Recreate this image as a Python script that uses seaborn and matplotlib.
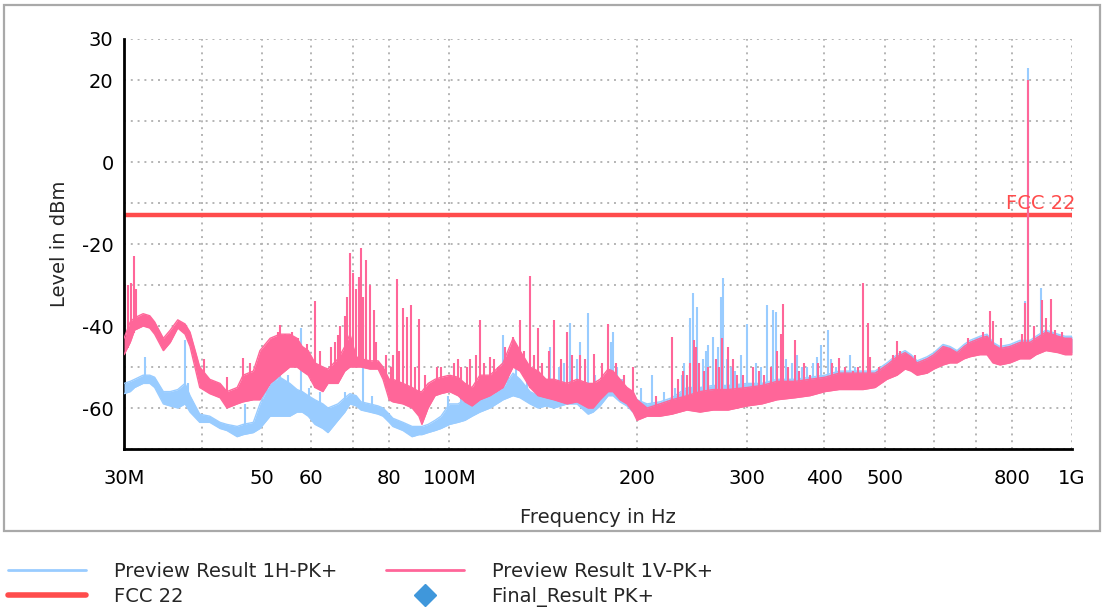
import numpy as np
import pandas as pd
import matplotlib
matplotlib.use("Agg")
import matplotlib.pyplot as plt
import seaborn as sns
from matplotlib.lines import Line2D
from matplotlib.patches import Rectangle
from matplotlib.ticker import FixedLocator, NullLocator

# ---------------------------------------------------------------- data (MHz, dBm)
# Horizontal polarisation sweep: band floor / ceiling
h_freq = [30.0, 30.7, 31.2, 32.2, 33.0, 33.6, 34.7, 35.6, 36.6, 37.6, 38.3, 39.7, 41.2, 42.8,
          43.9, 45.6, 46.6, 48.4, 49.6, 51.5, 53.4, 55.4, 56.9, 58.0, 59.3, 60.8, 62.6, 63.8,
          66.2, 67.9, 69.2, 70.8, 72.1, 74.5, 76.8, 78.2, 80.0, 81.1, 84.2, 87.1, 89.3, 90.3,
          92.4, 94.8, 96.9, 100.0, 103.2, 105.9, 108.7, 111.9, 116.2, 121.9, 126.5, 129.8,
          134.7, 138.8, 142.9, 147.2, 154.5, 160.3, 167.0, 170.1, 174.5, 179.8, 183.1, 187.9,
          192.8, 197.2, 200.1, 207.7, 217.8, 227.7, 240.7, 252.6, 265.1, 280.2, 300.6, 317.6,
          335.8, 359.0, 379.4, 401.0, 422.4, 440.1, 461.8, 482.7, 504.4, 523.5, 539.3, 551.4,
          563.8, 585.1, 600.0, 620.6, 636.9, 653.6, 670.9, 685.8, 711.6, 730.2, 746.6, 766.2,
          795.1, 825.1, 856.3, 875.4, 908.3, 949.6, 974.5, 1000.0]
h_low = [-56.5, -56, -55, -54, -54, -55, -59, -59.5, -60, -59, -61, -63.5, -63.5, -65,
         -65.5, -67, -66.5, -66, -65, -62, -62, -62, -61, -61, -62, -64, -65, -66,
         -63, -61, -59, -59.5, -60.5, -61, -61.5, -62, -63.5, -64.5, -65.5, -67, -66.5, -66.5,
         -66, -65.5, -65, -64, -63.5, -63, -62, -61, -60, -58, -57, -57.5,
         -59, -60, -59.5, -60, -59, -59, -61.5, -61, -59.5, -57, -57, -58.5,
         -59.5, -61, -62, -61, -61, -61, -60, -60.5, -60, -60, -59, -58.5,
         -57.5, -57, -56.5, -55.5, -55, -55, -55, -54.5, -52.5, -51.5, -50, -50.5,
         -51.5, -51, -50, -49, -48.5, -48.5, -47.5, -47, -46.5, -46.5, -48.5, -49,
         -48.5, -47.5, -47.5, -46.5, -45.5, -46, -46.5, -46.5]
h_high = [-54, -53.5, -53, -52, -52, -52.5, -56, -56, -55.5, -54, -57, -61.5, -62, -63.5,
          -64, -64.5, -64, -63.5, -59, -54, -52.5, -54, -55.5, -56, -57, -58, -59, -60,
          -59, -57.5, -56.5, -57, -58.5, -59, -59.5, -60, -61.5, -62.5, -63.5, -64.5, -64.5, -64.5,
          -64, -63, -62, -59, -59, -58, -57, -57, -57, -55, -51.5, -53,
          -56, -57, -56, -55, -55, -54, -56, -57, -55, -51, -51.5, -54,
          -56, -57, -58, -59, -58.5, -57.5, -55, -55, -54.5, -54.5, -54, -54,
          -53, -53, -52.5, -52, -51, -51, -51, -51, -49, -47, -46, -47,
          -48.5, -47.5, -46.5, -44.5, -45, -46, -44.5, -43.5, -42.5, -42, -44, -45,
          -44.5, -43.5, -43.5, -42.5, -41, -42, -42.5, -42.5]
h_spike_freq = [32.4, 37.6, 38.0, 47.0, 51.0, 52.5, 53.4, 55.0, 57.7, 59.5, 62.0, 68.0,
                72.7, 75.0, 99.5, 104.5, 110.0, 115.0, 119.0, 121.9, 124.0, 128.0, 133.0,
                145.0, 150.0, 153.0, 156.2, 160.3, 162.0, 167.0, 171.5, 176.0, 182.0, 183.1,
                186.0, 189.5, 203.0, 211.5, 221.0, 230.0, 236.0, 238.0, 243.0, 246.1, 249.8,
                255.0, 258.0, 260.2, 265.1, 270.0, 273.0, 275.0, 279.0, 283.0, 288.0, 294.0,
                301.0, 311.0, 316.0, 323.6, 331.0, 335.0, 341.0, 347.0, 355.0, 362.0, 368.4,
                375.0, 384.0, 389.4, 395.2, 405.0, 410.0, 418.0, 432.0, 440.0, 448.0,
                840.5, 850.0, 893.0]
h_spike_level = [-47.5, -43.4, -54, -59, -53, -51, -49, -52, -40.5, -55, -56, -56,
                 -47.5, -57, -57, -56, -55, -54, -52, -42.2, -50, -50, -52,
                 -45, -50, -49, -39.3, -48, -44, -36.8, -52, -52, -44, -41.5,
                 -50, -53, -55, -52, -56, -55, -52, -49, -38, -32, -35.3,
                 -48, -46, -44.6, -42.6, -45, -32.9, -28.3, -48, -50, -51, -47,
                 -39.6, -49, -50, -34.8, -36, -36.5, -47, -48, -49, -47, -50,
                 -50, -49, -47.5, -44.6, -41, -48, -50, -50, -47, -50,
                 -34, 22.9, -30.8]

# Vertical polarisation sweep: band floor / ceiling
v_freq = h_freq
v_low = [-47, -44, -41, -40, -40.5, -42, -46, -44, -40.5, -42, -45, -55, -56.5, -57.5,
         -60, -59, -58.5, -58, -58, -54, -52, -50, -50, -51, -52, -55, -56, -54,
         -54, -51, -50, -50, -50, -50.5, -50.5, -53, -58, -58.5, -59, -60, -62, -64,
         -60, -57, -56.5, -56, -57, -58.5, -59.5, -58, -57, -55, -50, -51,
         -55, -57, -57.5, -58, -59, -58.5, -60, -60, -58, -56, -56, -58,
         -59, -61, -63, -62, -62, -61.5, -60.5, -61, -60.5, -60.5, -59.5, -59,
         -58, -57.5, -57, -56, -55.5, -55.5, -55.5, -55, -53, -52, -50.5, -51,
         -52, -51.5, -50.5, -49.5, -49, -49, -48, -47.5, -47, -47, -49, -49.5,
         -49, -48, -48, -47, -46, -46.5, -47, -47]
v_high = [-43, -39, -38, -37, -37.5, -39, -43, -41, -38.5, -39.5, -41.5, -50, -53, -54,
          -56, -55, -52, -51, -46, -43, -42, -42, -43, -45, -46, -49, -50, -50.5,
          -48, -45, -42, -47.5, -48, -48.5, -48.5, -50, -53, -53, -54, -55, -56, -56,
          -54, -53, -52.5, -52, -52.5, -54, -55, -52, -52, -49, -43, -46,
          -50, -51, -53, -53, -54, -53, -54, -54, -53, -50.5, -51, -53,
          -55, -56, -58, -60, -59, -58, -57, -56, -55.5, -55.5, -55, -54.5,
          -53.5, -53.5, -53, -52.5, -51.5, -51.5, -51.5, -51.5, -49.5, -47.5, -46.5, -47.5,
          -49, -48, -47, -45, -45.5, -46.5, -45, -44, -43, -42.5, -44.5, -45.5,
          -45, -44, -44, -43, -41.5, -42.5, -43, -43]
v_spike_freq = [30.4, 30.8, 31.1, 31.4, 40.3, 43.9, 46.6, 47.8, 50.5, 51.2, 52.0, 53.0,
                53.4, 54.5, 55.8, 57.0, 58.0, 59.0, 60.8, 62.0, 64.5, 65.5, 66.2, 66.7,
                67.9, 68.5, 69.2, 70.0, 70.8, 71.5, 72.1, 72.7, 73.4, 74.5, 75.6, 76.2,
                79.0, 80.5, 81.1, 82.4, 83.0, 84.2, 85.4, 86.8, 88.0, 89.3, 91.5, 95.5,
                97.0, 101.5, 103.2, 104.5, 106.5, 108.0, 110.5, 111.9, 113.5, 116.2, 118.0,
                119.5, 123.0, 126.5, 129.8, 131.5, 134.7, 136.5, 138.8, 141.0, 144.5, 147.2,
                151.0, 154.5, 157.5, 162.1, 165.0, 170.6, 175.5, 179.8, 185.0, 191.0, 197.0,
                215.0, 227.7, 233.0, 237.0, 240.7, 243.5, 247.0, 249.0, 252.0, 256.0, 260.2,
                268.0, 271.0, 274.0, 280.2, 285.4, 290.0, 296.0, 307.2, 314.0, 320.0, 329.0,
                335.8, 340.8, 343.3, 350.0, 359.0, 364.0, 371.0, 380.0, 391.0, 411.6, 422.4,
                432.0, 445.0, 453.0, 461.8, 470.5, 474.5, 490.0, 516.0, 523.5, 530.0, 560.0,
                680.0, 720.0, 738.4, 746.6, 770.0, 830.0, 840.5, 850.0, 870.0, 895.1, 908.3,
                926.0, 940.0, 965.0]
v_spike_level = [-30, -29.5, -23, -31, -48, -52.4, -47.8, -49, -45, -44, -43.5, -41.5,
                 -39.8, -42, -41.5, -43, -46, -44.5, -34, -46, -45, -44, -42.2, -40,
                 -37.6, -33, -22.3, -27, -31, -28, -21, -33, -23.9, -30, -36, -44,
                 -47, -50, -47, -28.5, -46, -35.5, -37.8, -34.9, -50, -38.2, -52, -50,
                 -50, -49, -48, -50, -50, -48, -47, -38.5, -49, -47.5, -48,
                 -50, -45, -42.6, -38.5, -46, -27.8, -47, -40.5, -49, -46, -38.5,
                 -48, -41.5, -47, -47, -48, -46.8, -49, -39.5, -49, -52, -50,
                 -57, -42.6, -53, -51, -52, -49, -43.4, -45, -49, -51, -50,
                 -48, -50, -43, -45, -48, -52, -52, -50, -51, -52, -50,
                 -46, -41.9, -34.6, -50, -43.5, -51, -49, -52, -49, -49, -47.7,
                 -50, -51, -50, -29.4, -39.2, -47.5, -50, -47, -43.7, -46, -47,
                 -43, -41.5, -36.3, -38.7, -43, -42, -34.5, 20, -40, -33.7, -38,
                 -33.4, -41, -41.5]

# limit line
limit_name = "FCC 22"
limit_freq = [30.0, 1000.0]
limit_level = [-13.0, -13.0]

x_tick_mhz = [30, 40, 50, 60, 70, 80, 100, 200, 300, 400, 500, 600, 700, 800, 1000]
x_tick_labels = ["30M", "", "50", "60", "", "80", "100M", "200", "300", "400", "500",
                 "", "", "800", "1G"]
y_ticks = [-70, -60, -50, -40, -30, -20, -10, 0, 10, 20, 30]
y_tick_labels = ["", "-60", "", "-40", "", "-20", "", "0", "", "20", "30"]

legend_labels = ["Preview Result 1H-PK+", "FCC 22", "Preview Result 1V-PK+", "Final_Result PK+"]

# ---------------------------------------------------------------- styling
COL_H = "#99CCFF"
COL_V = "#FF6699"
COL_LIM = "#FF4C4C"
COL_FINAL = "#3F97DB"
MHZ = 1e6

sns.set_style("white")
plt.rcParams["font.family"] = ["DejaVu Sans"]
plt.rcParams["font.size"] = 14

fig = plt.figure(figsize=(11.05, 6.12), dpi=100)
W, H = 1105, 612
ax = fig.add_axes([124 / W, 1 - 449 / H, (1072 - 124) / W, (449 - 39) / H])


def draw_trace(freq, low, high, spike_f, spike_l, color, z):
    f = np.asarray(freq) * MHZ
    n = len(f)
    ax.fill_between(f, low, high, color=color, lw=0, zorder=z)
    edges = pd.DataFrame({
        "freq": np.concatenate([f, f]),
        "level": np.concatenate([low, high]),
        "edge": ["low"] * n + ["high"] * n,
    })
    sns.lineplot(data=edges, x="freq", y="level", units="edge", estimator=None,
                 color=color, lw=1.0, ax=ax, zorder=z, legend=False)
    # spikes rise from the floor of the band
    base = np.interp(np.log10(spike_f), np.log10(freq), low)
    ax.vlines(np.asarray(spike_f) * MHZ, base, spike_l, color=color, lw=1.5, zorder=z)


lim_df = pd.DataFrame({"freq": np.asarray(limit_freq) * MHZ, "level": limit_level})
sns.lineplot(data=lim_df, x="freq", y="level", color=COL_LIM, lw=3.2, ax=ax,
             zorder=2, legend=False)
draw_trace(h_freq, h_low, h_high, h_spike_freq, h_spike_level, COL_H, 3)
draw_trace(v_freq, v_low, v_high, v_spike_freq, v_spike_level, COL_V, 4)

ax.text(891 * MHZ, limit_level[0] + 0.5, limit_name, color=COL_LIM, fontsize=14,
        ha="center", va="bottom", zorder=5)

# ---------------------------------------------------------------- axes
ax.set_xscale("log")
ax.set_xlim(30 * MHZ, 1000 * MHZ)
ax.set_ylim(-70, 30)
ax.xaxis.set_major_locator(FixedLocator(np.asarray(x_tick_mhz) * MHZ))
ax.xaxis.set_minor_locator(NullLocator())
ax.set_xticklabels(x_tick_labels)
ax.set_yticks(y_ticks)
ax.set_yticklabels(y_tick_labels)
ax.tick_params(axis="both", direction="inout", length=11, width=1.6, colors="black",
               labelsize=14)
ax.tick_params(axis="x", pad=9)
ax.tick_params(axis="y", pad=2)

ax.set_axisbelow(True)
ax.grid(True, color="#b4b4b4", linestyle=(0, (1, 2.5)), lw=1.4)
for side in ("top", "right"):
    ax.spines[side].set_visible(False)
for side in ("left", "bottom"):
    ax.spines[side].set_color("black")
    ax.spines[side].set_linewidth(2)

ax.set_xlabel("Frequency in Hz", fontsize=14, labelpad=14)
ax.set_ylabel("Level in dBm", fontsize=14, labelpad=9)

# outer frame around the plot region
fig.patches.append(Rectangle((4 / W, 1 - 531 / H), (1100 - 4) / W, (531 - 5) / H,
                             transform=fig.transFigure, fill=False, ec="#a9a9a9", lw=1.6))

# ---------------------------------------------------------------- legend
handles = [
    Line2D([], [], color=COL_H, lw=2),
    Line2D([], [], color=COL_LIM, lw=4),
    Line2D([], [], color=COL_V, lw=2),
    Line2D([], [], color=COL_FINAL, lw=0, marker="D", markersize=11),
]
fig.legend(handles, legend_labels, ncol=2, loc="upper left",
           bbox_to_anchor=(8 / W, 1 - 562 / H), frameon=False, fontsize=14,
           handlelength=4.0, handletextpad=1.45, columnspacing=2.5,
           labelspacing=0.3, borderpad=0, borderaxespad=0)

fig.savefig("out.png", dpi=100)
